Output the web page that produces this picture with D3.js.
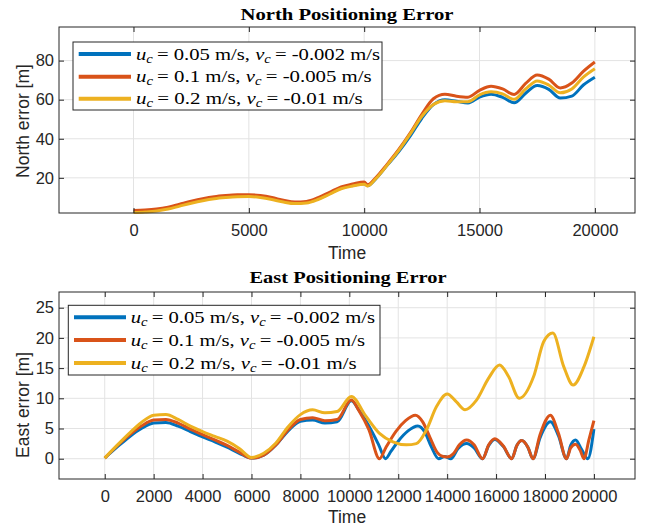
<!DOCTYPE html>
<html><head><meta charset="utf-8">
<script src="https://cdn.jsdelivr.net/npm/d3@7"></script>
<style>
html,body{margin:0;padding:0;background:#fff;}
svg{display:block;}
</style></head>
<body>
<svg id="chart" width="646" height="529"></svg>
<script>
// ---------------- DATA ----------------
const seriesNames = ["blue", "red", "yellow"];
const seriesColors = ["#0072BD", "#D95319", "#EDB120"];
const uLabels = ["0.05", "0.1", "0.2"];
const vLabels = ["-0.002", "-0.005", "-0.01"];

// North error (shared time grid)
const northTime = [0,500,1000,1500,2000,2500,3000,3500,4000,4500,5000,5500,6000,6500,7000,7500,8000,8500,9000,9500,10000,10150,10500,11000,11500,12000,12500,13000,13500,14000,14500,15000,15500,16000,16500,17000,17500,18000,18500,19000,19500,20000];
const northBlue   = [2.8,3.0,3.5,4.5,6.0,7.5,8.8,9.8,10.4,10.8,10.9,10.4,9.4,8.1,7.2,7.5,9.3,12.0,14.8,16.2,17.0,16.0,19.5,26.5,33.5,41.5,50.5,57.5,60.0,59.2,58.3,61.3,62.8,61.2,58.4,63.3,67.2,65.3,60.8,61.8,67.5,71.5];
const northRed    = [3.3,3.5,4.0,5.0,6.5,8.0,9.3,10.3,10.9,11.3,11.4,10.9,9.9,8.5,7.6,7.9,9.8,12.6,15.4,16.8,17.9,16.4,20.0,27.0,34.5,43.0,52.5,60.5,62.8,61.8,61.3,64.8,66.9,65.5,62.7,68.3,72.6,70.5,66.0,68.5,74.5,79.3];
const northYellow = [2.2,2.5,3.0,4.0,5.5,7.0,8.3,9.3,9.9,10.3,10.4,9.9,8.9,7.6,6.8,7.1,8.9,11.6,14.4,15.8,16.7,15.8,19.5,26.5,34.0,42.5,51.5,57.5,59.5,59.0,59.0,62.5,64.0,63.0,60.2,65.5,69.6,67.5,63.5,65.5,71.5,75.8];
const northTicksX = [0,5000,10000,15000,20000];
const northTicksY = [20,40,60,80];

// East error (each series has its own sample times)
const eastTimeBlue = [0,500,1000,1500,2000,2500,3000,3500,4000,4500,5000,5500,6000,6500,7000,7500,8000,8500,9000,9500,10080,10400,10800,11200,11480,11700,12000,12400,12800,13100,13350,13650,13900,14150,14450,14800,15100,15450,15700,15950,16300,16640,16850,17050,17300,17510,17800,18220,18550,18880,19050,19250,19500,19750,20000];
const eastBlue     = [0.1,1.9,3.6,5.0,5.9,6.0,5.4,4.5,3.6,2.8,1.9,0.9,0.1,0.6,2.3,4.6,6.2,6.4,5.9,6.1,9.6,8.0,5.4,2.3,0.0,1.2,2.9,4.6,5.4,4.3,2.0,0.0,0.35,0.0,1.7,2.5,1.8,0.0,2.2,3.2,2.0,0.0,2.2,3.0,1.9,0.0,3.5,6.1,3.8,0.0,2.2,3.1,1.5,0.0,4.9];
const eastTimeRed  = [0,500,1000,1500,2000,2500,3000,3500,4000,4500,5000,5500,6000,6500,7000,7500,8000,8500,9000,9500,10080,10400,10800,11233,11500,11900,12300,12700,13000,13300,13600,13800,14000,14250,14500,14800,15100,15450,15700,15950,16300,16640,16850,17050,17300,17510,17800,18220,18550,18880,19050,19250,19450,19590,19800,20000];
const eastRed      = [0.1,2.1,3.9,5.4,6.4,6.5,5.9,4.9,4.0,3.1,2.2,1.1,0.1,0.6,2.3,4.8,6.5,6.8,6.3,6.5,9.7,7.9,4.8,0.0,1.9,4.5,6.3,7.2,6.1,3.5,1.0,0.4,0.3,0.8,2.3,3.1,2.3,0.0,2.3,3.3,2.1,0.0,2.2,3.0,1.9,0.0,4.0,7.2,4.2,0.0,1.8,2.4,1.3,0.0,3.2,6.3];
const eastTimeYellow = [0,500,1000,1500,2000,2500,3000,3500,4000,4500,5000,5500,6000,6500,7000,7500,8000,8500,9000,9500,10080,10685,11233,11780,12330,12740,13150,13560,14000,14380,14730,15200,15690,16140,16510,16950,17535,17950,18320,18770,19150,19590,20000];
const eastYellow     = [0.1,2.2,4.2,6.0,7.2,7.3,6.5,5.4,4.5,3.7,2.9,1.7,0.2,0.9,2.6,5.3,7.3,8.1,7.6,7.8,10.3,7.0,4.2,2.8,2.3,2.5,4.75,8.6,10.7,9.4,8.1,9.7,13.3,15.5,13.6,10.0,13.6,19.4,20.8,15.2,12.2,15.2,20.2];
const eastTicksX = [0,2000,4000,6000,8000,10000,12000,14000,16000,18000,20000];
const eastTicksY = [0,5,10,15,20,25];

// ---------------- DRAW ----------------
const svg = d3.select("#chart");
const tickFont = "'Liberation Sans', Arial, sans-serif";
const serif = "'Liberation Serif', 'Times New Roman', serif";
const axisColor = "#262626";

function panel(cfg) {
  const g = svg.append("g");
  const x = d3.scaleLinear().domain(cfg.xDomain).range([cfg.left, cfg.right]);
  const y = d3.scaleLinear().domain(cfg.yDomain).range([cfg.bottom, cfg.top]);
  const w = cfg.right - cfg.left, h = cfg.bottom - cfg.top;

  g.append("rect").attr("x", cfg.left).attr("y", cfg.top).attr("width", w).attr("height", h).attr("fill", "#fff");

  // grid
  g.append("g").selectAll("line").data(cfg.ticksX).join("line")
    .attr("x1", d => x(d)).attr("x2", d => x(d)).attr("y1", cfg.top).attr("y2", cfg.bottom)
    .attr("stroke", "#e3e3e3").attr("stroke-width", 1);
  g.append("g").selectAll("line").data(cfg.ticksY).join("line")
    .attr("y1", d => y(d)).attr("y2", d => y(d)).attr("x1", cfg.left).attr("x2", cfg.right)
    .attr("stroke", "#e3e3e3").attr("stroke-width", 1);

  // lines
  const line = d3.line().x(d => x(d[0])).y(d => y(d[1])).curve(d3.curveMonotoneX);
  cfg.series.forEach((s, i) => {
    const pts = s.t.map((t, k) => [t, s.v[k]]);
    g.append("path").datum(pts).attr("d", line).attr("fill", "none")
      .attr("stroke", seriesColors[i]).attr("stroke-width", 3).attr("stroke-linejoin", "round");
  });

  // axes
  const ax = [
    d3.axisBottom(x).tickValues(cfg.ticksX).tickSizeInner(-5).tickSizeOuter(0).tickPadding(11).tickFormat(d3.format("d")),
    d3.axisTop(x).tickValues(cfg.ticksX).tickSizeInner(-5).tickSizeOuter(0).tickFormat(""),
    d3.axisLeft(y).tickValues(cfg.ticksY).tickSizeInner(-5).tickSizeOuter(0).tickPadding(5).tickFormat(d3.format("d")),
    d3.axisRight(y).tickValues(cfg.ticksY).tickSizeInner(-5).tickSizeOuter(0).tickFormat("")
  ];
  const pos = [`translate(0,${cfg.bottom})`, `translate(0,${cfg.top})`, `translate(${cfg.left},0)`, `translate(${cfg.right},0)`];
  ax.forEach((a, i) => {
    const ag = g.append("g").attr("transform", pos[i]).call(a);
    ag.select(".domain").remove();
    ag.selectAll("line").attr("stroke", axisColor);
    ag.selectAll("text").attr("fill", axisColor).style("font-family", tickFont).style("font-size", "16.5px");
  });
  g.append("rect").attr("x", cfg.left).attr("y", cfg.top).attr("width", w).attr("height", h)
    .attr("fill", "none").attr("stroke", axisColor).attr("stroke-width", 1);

  // title
  g.append("text").attr("x", cfg.titleX).attr("y", cfg.titleY).attr("text-anchor", "middle")
    .attr("textLength", cfg.titleLen).attr("lengthAdjust", "spacingAndGlyphs")
    .style("font-family", serif).style("font-weight", "bold").style("font-size", "17px")
    .attr("fill", "#000").text(cfg.title);
  // x label
  g.append("text").attr("x", (cfg.left + cfg.right) / 2).attr("y", cfg.xLabelY).attr("text-anchor", "middle")
    .style("font-family", tickFont).style("font-size", "17.5px").attr("fill", axisColor).text("Time");
  // y label
  g.append("text").attr("transform", `translate(${cfg.yLabelX},${cfg.yLabelY}) rotate(-90)`).attr("text-anchor", "middle")
    .style("font-family", tickFont).style("font-size", "17.5px").attr("fill", axisColor).text(cfg.yLabel);

  // legend
  const L = cfg.legend;
  g.append("rect").attr("x", L.x).attr("y", L.y).attr("width", L.w).attr("height", L.h)
    .attr("fill", "#fff").attr("stroke", axisColor).attr("stroke-width", 1);
  seriesNames.forEach((n, i) => {
    const cy = L.rows[i];
    g.append("line").attr("x1", L.lx1).attr("x2", L.lx2).attr("y1", cy).attr("y2", cy)
      .attr("stroke", seriesColors[i]).attr("stroke-width", 4);
    const t = g.append("text").attr("x", L.tx).attr("y", cy + 5.5)
      .attr("textLength", L.lens[i]).attr("lengthAdjust", "spacingAndGlyphs")
      .style("font-family", serif).style("font-size", "17px").attr("fill", "#000");
    t.append("tspan").style("font-style", "italic").text("u");
    t.append("tspan").style("font-style", "italic").style("font-size", "12px").attr("dy", 3).text("c");
    t.append("tspan").attr("dy", -3).text(`\u2009= ${uLabels[i]} m/s, `);
    t.append("tspan").style("font-style", "italic").text("v");
    t.append("tspan").style("font-style", "italic").style("font-size", "12px").attr("dy", 3).text("c");
    t.append("tspan").attr("dy", -3).text(`\u2009= ${vLabels[i]} m/s`);
  });
}

panel({
  left: 59, right: 635, top: 27, bottom: 213,
  xDomain: [-3230, 21740], yDomain: [2, 97.2],
  ticksX: northTicksX, ticksY: northTicksY,
  series: [{t: northTime, v: northBlue}, {t: northTime, v: northRed}, {t: northTime, v: northYellow}],
  title: "North Positioning Error", titleX: 347, titleY: 19.5, titleLen: 213,
  xLabelY: 259, yLabelX: 29, yLabelY: 121, yLabel: "North error [m]",
  legend: {x: 73, y: 42, w: 309, h: 68, rows: [54, 76.7, 98.7], lx1: 78.7, lx2: 131, tx: 136, lens: [244, 235.7, 226.7]}
});

panel({
  left: 59, right: 635, top: 292, bottom: 479,
  xDomain: [-1870, 21680], yDomain: [-3.36, 27.6],
  ticksX: eastTicksX, ticksY: eastTicksY,
  series: [{t: eastTimeBlue, v: eastBlue}, {t: eastTimeRed, v: eastRed}, {t: eastTimeYellow, v: eastYellow}],
  title: "East Positioning Error", titleX: 348, titleY: 283, titleLen: 197,
  xLabelY: 523, yLabelX: 29, yLabelY: 405, yLabel: "East error [m]",
  legend: {x: 68.3, y: 305.3, w: 311.7, h: 69.7, rows: [317.3, 340, 363], lx1: 74, lx2: 126, tx: 130.7, lens: [244.3, 234.3, 226]}
});
</script>
</body></html>
